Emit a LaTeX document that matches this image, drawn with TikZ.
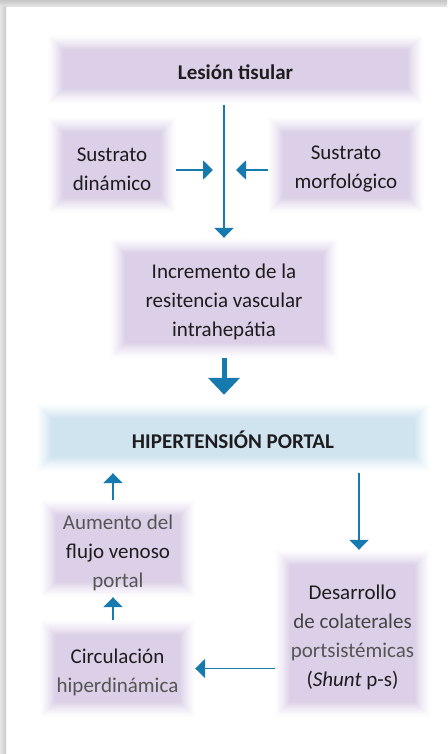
\documentclass[tikz,border=0pt]{standalone}
\usepackage{fontspec}
\setmainfont{Carlito}
\usetikzlibrary{arrows.meta}
\definecolor{boxp}{RGB}{219,208,231}
\definecolor{boxb}{RGB}{208,228,240}
\definecolor{arrc}{RGB}{22,122,174}
\definecolor{txt}{RGB}{30,28,30}
\definecolor{txtg}{RGB}{85,85,85}
\tikzset{
  glow/.style={rectangle, inner sep=0pt,
    path picture={
      \foreach \k [evaluate=\k as \p using int(100*(\k/16)^1.25)] in {1,...,16}{
        \fill[#1!\p!white]
          ([shift={(\k*1.0pt-1pt,-\k*1.0pt+1pt)}]path picture bounding box.north west)
          rectangle
          ([shift={(-\k*1.0pt+1pt,\k*1.0pt-1pt)}]path picture bounding box.south east);
      }}},
  lbl/.style={align=center, text=txt, inner sep=0pt, yshift=-4pt,
    font=\fontsize{21}{29}\selectfont},
  arr/.style={draw=arrc, line width=1.8pt, -{Triangle[width=19pt,length=10pt]}},
  bigarr/.style={draw=arrc, line width=5pt, -{Triangle[width=31pt,length=17pt]}},
}
\begin{document}
\begin{tikzpicture}[x=1pt,y=-1pt]
% background and frame
\fill[white] (0,0) rectangle (447,754);
\useasboundingbox (0,0) rectangle (447,754);
\shade[top color=gray!45, bottom color=gray!18] (0,0) rectangle (447,7);
\shade[left color=gray!20, right color=gray!42] (0,7) rectangle (6,754);

% boxes
\node[glow=boxp, minimum width=375pt, minimum height=69pt,
  label={[lbl,yshift=2pt]center:{\bfseries Lesión tisular}}] (lesion) at (235.5,70) {};
\node[glow=boxp, minimum width=128pt, minimum height=96pt,
  label={[lbl]center:{Sustrato\\dinámico}}] (dinam) at (112,165) {};
\node[glow=boxp, minimum width=156pt, minimum height=96pt,
  label={[lbl]center:{Sustrato\\morfológico}}] (morfo) at (346,165) {};
\node[glow=boxp, minimum width=228pt, minimum height=120pt,
  label={[lbl]center:{Incremento de la\\resitencia vascular\\intrahepátia}}] (incr) at (224,298) {};
\node[glow=boxb, minimum width=394pt, minimum height=69pt,
  label={[lbl,yshift=2pt]center:{\bfseries HIPERTENSIÓN PORTAL}}] (hiper) at (233,437.5) {};
\node[glow=boxp, minimum width=154pt, minimum height=97pt,
  label={[lbl]center:{\textcolor{txtg}{Aumento del}\\flujo venoso\\\textcolor{txtg}{portal}}}] (aumento) at (118,548.5) {};
\node[glow=boxp, minimum width=155pt, minimum height=97pt,
  label={[lbl]center:{Circulación\\\textcolor{txtg}{hiperdinámica}}}] (circ) at (117.5,668.5) {};
\node[glow=boxp, minimum width=155pt, minimum height=167pt,
  label={[lbl]center:{Desarrollo\\\textcolor{txtg!70!txt}{de colaterales}\\\textcolor{txtg}{portsistémicas}\\(\textit{Shunt} p-s)}}] (desa) at (352.5,633.5) {};

% junction points
\coordinate (jl) at (213,170);
\coordinate (jr) at (236,170);

% connectors
\draw[arr] (lesion.south -| incr.north) -- (incr.north);
\draw[arr] (dinam.east |- jl) -- (jl);
\draw[arr] (morfo.west |- jr) -- (jr);
\draw[bigarr] (incr.south) -- ([yshift=8pt]hiper.north -| incr.south);
\draw[arr] ([xshift=-5pt]aumento.north) -- ([xshift=-5pt,yshift=-1pt]aumento.north |- hiper.south);
\draw[arr] ([xshift=6.5pt,yshift=-1pt]hiper.south -| desa.north) -- ([xshift=6.5pt]desa.north);
\draw[arr] ([xshift=-4.5pt]circ.north) -- ([xshift=-4.5pt]circ.north |- aumento.south);
\draw[arr] (desa.west |- circ.east) -- (circ.east);
\end{tikzpicture}
\end{document}
